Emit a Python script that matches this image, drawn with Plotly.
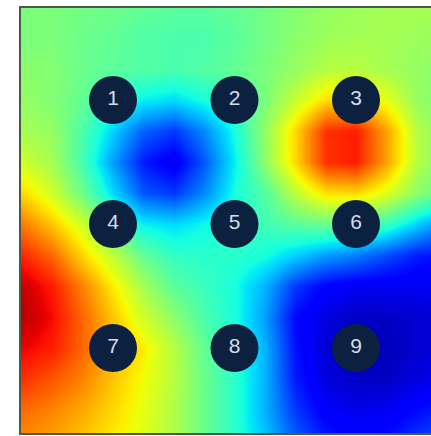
import plotly.graph_objects as go

# grid coordinates (logical units; circles sit at 1, 2, 3)
x_grid = [0.25, 0.5, 0.75, 1.0, 1.25, 1.5, 1.75, 2.0, 2.25, 2.5, 2.75, 3.0, 3.25, 3.5, 3.75]
y_grid = [0.25, 0.5, 0.75, 1.0, 1.25, 1.5, 1.75, 2.0, 2.25, 2.5, 2.75, 3.0, 3.25, 3.5, 3.75]

# field values (0 = dark blue, 1 = dark red)
z_rows = [
    [0.50, 0.50, 0.49, 0.48, 0.47, 0.46, 0.46, 0.47, 0.49, 0.51, 0.53, 0.54, 0.55, 0.55, 0.55],
    [0.50, 0.50, 0.48, 0.47, 0.45, 0.44, 0.44, 0.46, 0.49, 0.52, 0.54, 0.55, 0.55, 0.54, 0.53],
    [0.52, 0.51, 0.48, 0.46, 0.45, 0.44, 0.45, 0.47, 0.50, 0.53, 0.57, 0.57, 0.55, 0.53, 0.52],
    [0.53, 0.51, 0.47, 0.41, 0.36, 0.34, 0.38, 0.43, 0.50, 0.59, 0.68, 0.69, 0.63, 0.53, 0.50],
    [0.55, 0.53, 0.44, 0.33, 0.22, 0.18, 0.26, 0.38, 0.53, 0.68, 0.86, 0.88, 0.74, 0.57, 0.51],
    [0.60, 0.55, 0.43, 0.28, 0.15, 0.10, 0.21, 0.36, 0.52, 0.68, 0.86, 0.88, 0.74, 0.57, 0.50],
    [0.68, 0.60, 0.48, 0.34, 0.21, 0.18, 0.26, 0.38, 0.45, 0.58, 0.67, 0.68, 0.62, 0.52, 0.46],
    [0.78, 0.70, 0.60, 0.46, 0.36, 0.34, 0.37, 0.40, 0.43, 0.46, 0.48, 0.46, 0.42, 0.33, 0.25],
    [0.87, 0.80, 0.68, 0.58, 0.47, 0.41, 0.40, 0.40, 0.38, 0.33, 0.28, 0.25, 0.20, 0.15, 0.13],
    [0.94, 0.88, 0.77, 0.66, 0.55, 0.46, 0.42, 0.38, 0.30, 0.18, 0.12, 0.10, 0.10, 0.10, 0.10],
    [0.95, 0.90, 0.80, 0.70, 0.60, 0.52, 0.44, 0.38, 0.28, 0.13, 0.08, 0.06, 0.06, 0.07, 0.08],
    [0.91, 0.88, 0.80, 0.73, 0.66, 0.57, 0.47, 0.40, 0.30, 0.14, 0.07, 0.05, 0.05, 0.07, 0.08],
    [0.86, 0.82, 0.77, 0.70, 0.64, 0.57, 0.48, 0.40, 0.30, 0.15, 0.08, 0.06, 0.06, 0.08, 0.10],
    [0.80, 0.77, 0.73, 0.68, 0.63, 0.56, 0.48, 0.40, 0.30, 0.18, 0.11, 0.09, 0.10, 0.13, 0.16],
    [0.76, 0.74, 0.70, 0.66, 0.62, 0.56, 0.48, 0.40, 0.32, 0.22, 0.15, 0.13, 0.14, 0.18, 0.22],
]

# numbered points
point_x = [1, 2, 3, 1, 2, 3, 1, 2, 3]
point_y = [1, 1, 1, 2, 2, 2, 3, 3, 3]
point_labels = ["1", "2", "3", "4", "5", "6", "7", "8", "9"]

jet = [
    [0.0, "rgb(0,0,127)"],
    [0.11, "rgb(0,0,255)"],
    [0.125, "rgb(0,0,255)"],
    [0.34, "rgb(0,219,255)"],
    [0.35, "rgb(0,229,247)"],
    [0.375, "rgb(20,255,226)"],
    [0.64, "rgb(239,255,8)"],
    [0.65, "rgb(247,245,0)"],
    [0.66, "rgb(255,236,0)"],
    [0.89, "rgb(255,19,0)"],
    [0.91, "rgb(232,0,0)"],
    [1.0, "rgb(127,0,0)"],
]

fig = go.Figure()
fig.add_trace(go.Heatmap(
    x=x_grid, y=y_grid, z=z_rows,
    colorscale=jet, zmin=0, zmax=1, zsmooth="best",
    showscale=False, hoverinfo="skip",
))
fig.add_trace(go.Scatter(
    x=point_x, y=point_y, mode="markers+text",
    text=point_labels, textposition="middle center",
    marker=dict(size=48, color="#0c2140", line=dict(width=0)),
    textfont=dict(family="Liberation Sans, Arial, sans-serif", size=21, color="#d5dde8"),
    hoverinfo="skip",
))

# plot area: px 20..431 horizontally, 7..434 vertically
fig.update_xaxes(range=[0.2346, 3.6173], visible=False, fixedrange=True)
fig.update_yaxes(range=[3.6935, 0.25], visible=False, fixedrange=True)
fig.update_layout(
    width=431, height=436,
    margin=dict(l=20, r=0, t=7, b=2, pad=0),
    paper_bgcolor="white", plot_bgcolor="white",
    showlegend=False,
    shapes=[dict(type="rect", xref="paper", yref="paper", x0=0, x1=1.05, y0=0, y1=1,
                 line=dict(color="#4a5a4a", width=2), fillcolor="rgba(0,0,0,0)")],
)
fig.write_html("out.html", post_script="document.body.style.margin='0px';",
               config={"displayModeBar": False})
